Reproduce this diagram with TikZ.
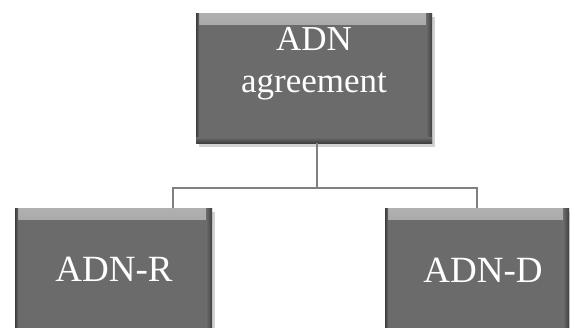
\documentclass[tikz,border=0pt]{standalone}
\usepackage{fontspec}
\setmainfont{Liberation Serif}
\usetikzlibrary{shadows}
\definecolor{boxface}{HTML}{6B6B6B}
\definecolor{boxlight}{HTML}{B0B0B0}
\definecolor{boxdark}{HTML}{3E3E3E}
\definecolor{conncol}{HTML}{808080}
\tikzset{
  box/.style={anchor=north west, draw=none, fill=boxface, inner sep=0pt,
    drop shadow={shadow xshift=3pt, shadow yshift=-4pt, opacity=0.25, fill=black!70},
    path picture={
      \shade[top color=boxlight, bottom color=boxface]
        (path picture bounding box.north west) rectangle ([yshift=-11pt]path picture bounding box.north east);
      \shade[left color=boxface, right color=boxdark]
        ([xshift=-6pt]path picture bounding box.north east) rectangle (path picture bounding box.south east);
      \shade[left color=boxdark, right color=boxface]
        (path picture bounding box.north west) rectangle ([xshift=3pt]path picture bounding box.south west);
      \shade[top color=boxface, bottom color=boxdark]
        ([yshift=6pt]path picture bounding box.south west) rectangle (path picture bounding box.south east);
    }},
  lbl/.style={text=white, anchor=base, inner sep=0pt},
  conn/.style={draw=conncol, line width=1.2pt}
}
\begin{document}
\begin{tikzpicture}[x=1pt,y=-1pt]
\useasboundingbox[fill=white] (0,0) rectangle (570,327);
\node[box, minimum width=236pt, minimum height=130pt] (top) at (196,13) {};
\node[box, minimum width=197pt, minimum height=135pt] (left) at (15,208) {};
\node[box, minimum width=184pt, minimum height=135pt] (right) at (385,208) {};
\node[lbl, font=\fontsize{35}{40}\selectfont] (t1) at (314,50) {ADN};
\node[lbl, font=\fontsize{35}{40}\selectfont] (t2) at (314,92) {agreement};
\node[lbl, font=\fontsize{37}{42}\selectfont] (t3) at (114,281) {ADN-R};
\node[lbl, font=\fontsize{37}{42}\selectfont] (t4) at (483,282) {ADN-D};
\coordinate (hub) at (317,188);
\coordinate (lc) at (173,208);
\coordinate (rc) at (477,208);
\draw[conn] (top.south -| hub) -- (hub);
\draw[conn] (lc) |- (hub) -| (rc);
\end{tikzpicture}
\end{document}
